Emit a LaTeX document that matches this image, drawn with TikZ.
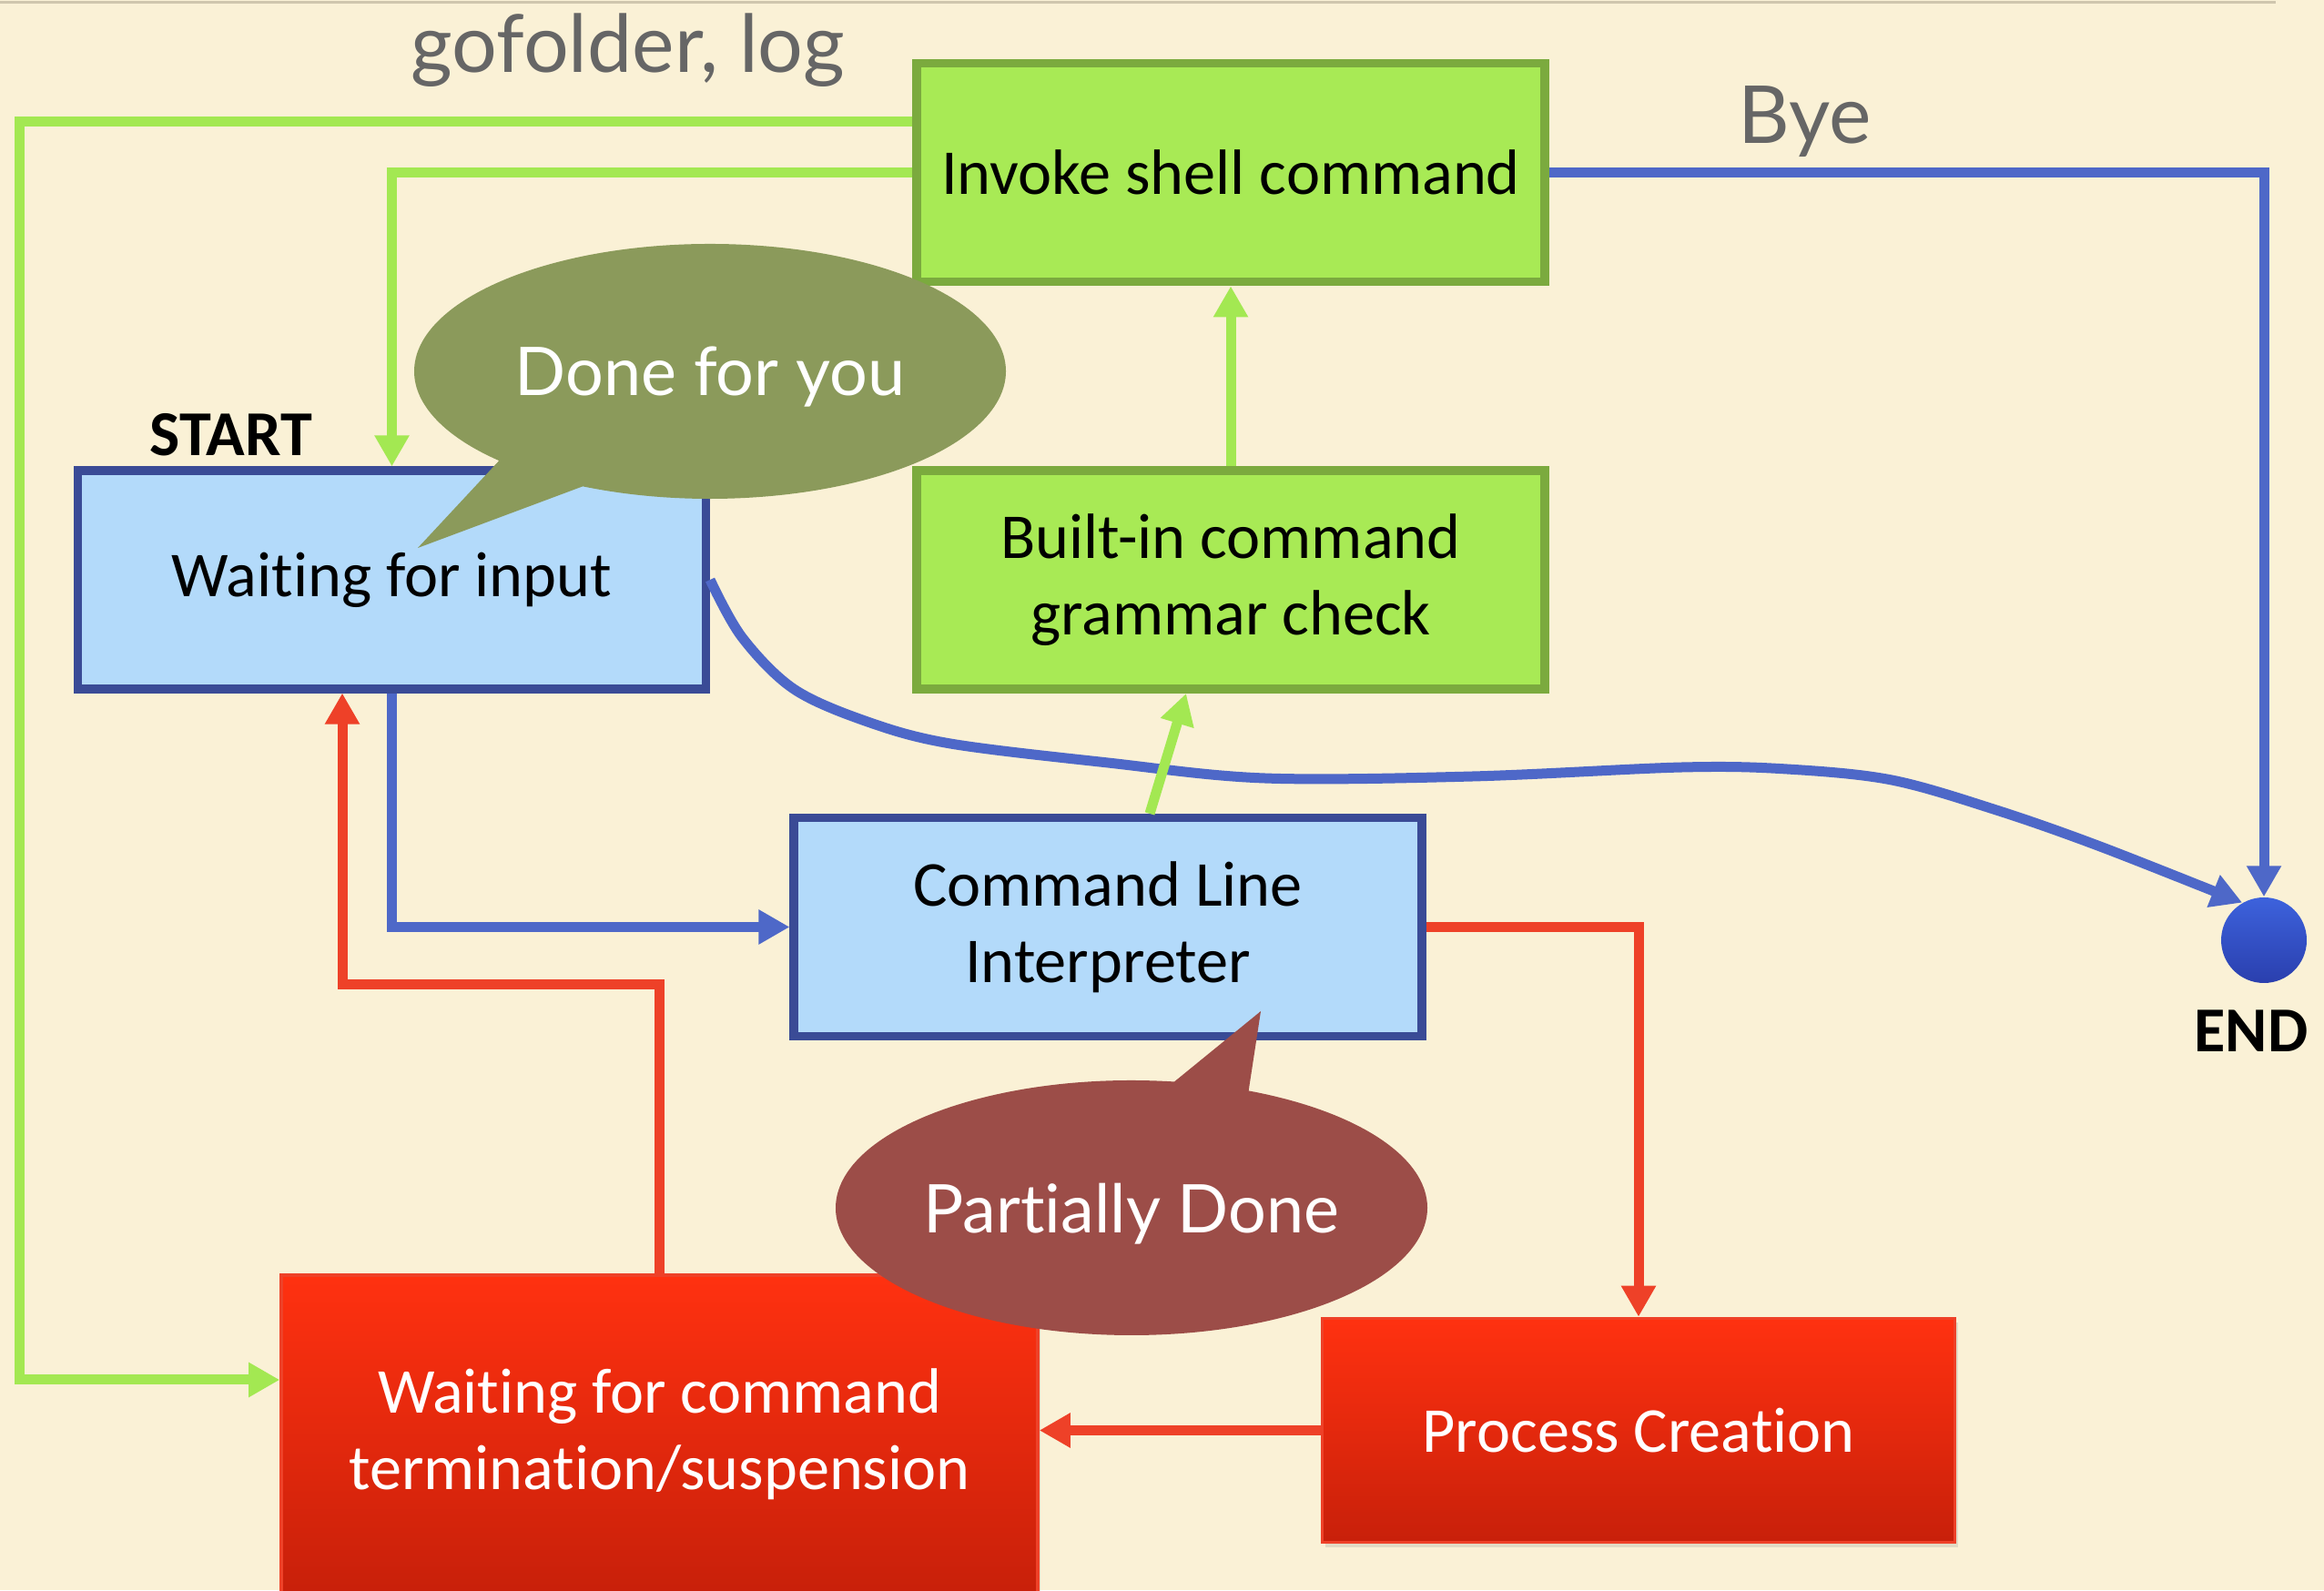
\documentclass[tikz,border=0pt]{standalone}
\usepackage{fontspec}
\setmainfont{Carlito}[Ligatures=NoCommon]
\newfontfamily\gillfont{Lato}[Ligatures=NoCommon]
\usepackage{tikz}
\usetikzlibrary{shapes.geometric, shapes.callouts, arrows.meta, positioning, calc, shadows}

\definecolor{bgcream}{HTML}{FAF1D6}
\definecolor{topline}{HTML}{CFC6AE}
\definecolor{greenfill}{HTML}{A8EA55}
\definecolor{greenedge}{HTML}{7BAA3E}
\definecolor{greenline}{HTML}{A3E852}
\definecolor{bluefill}{HTML}{B3DAFA}
\definecolor{blueedge}{HTML}{3A4B96}
\definecolor{blueline}{HTML}{4E68C8}
\definecolor{redline}{HTML}{EE4128}
\definecolor{redtop}{HTML}{FF3110}
\definecolor{redbottom}{HTML}{C8200A}
\definecolor{endtop}{HTML}{3D62DC}
\definecolor{endbottom}{HTML}{2A3FAE}
\definecolor{olivebub}{HTML}{8B9A5B}
\definecolor{brownbub}{HTML}{9C4D48}
\definecolor{labelgray}{HTML}{666666}

\begin{document}
\begin{tikzpicture}[
  font=\fontsize{20}{24}\selectfont,
  greenbox/.style={draw=greenedge, line width=2.8pt, fill=greenfill, minimum width=6.9cm, minimum height=2.4cm, align=center,
    drop shadow={opacity=0.2, shadow xshift=0.03cm, shadow yshift=-0.05cm}},
  bluebox/.style={draw=blueedge, line width=2.6pt, fill=bluefill, minimum width=6.9cm, minimum height=2.4cm, align=center,
    drop shadow={opacity=0.2, shadow xshift=0.03cm, shadow yshift=-0.05cm}},
  redbox/.style={draw=redline, line width=1pt, top color=redtop, bottom color=redbottom, text=white, minimum width=6.95cm, minimum height=2.46cm, align=center,
    drop shadow={opacity=0.2, shadow xshift=0.03cm, shadow yshift=-0.05cm}},
  bubble/.style={ellipse callout, font=\gillfont\fontsize{21}{24}\selectfont, text=white, inner sep=0pt, minimum width=6.5cm, minimum height=2.8cm, text depth=0pt},
  greenflow/.style={line width=0.11cm, greenline, -{Triangle[length=0.34cm, width=0.36cm]}},
  blueflow/.style={line width=0.11cm, blueline, -{Triangle[length=0.34cm, width=0.36cm]}},
  redflow/.style={line width=0.11cm, redline, -{Triangle[length=0.34cm, width=0.36cm]}},
  toplabel/.style={font=\gillfont\fontsize{25}{28}\selectfont, text=labelgray, anchor=base},
  mark label/.style={font=\bfseries\fontsize{20}{24}\selectfont},
]
% Slide background
\clip (0,0) rectangle (25.53,17.47);
\fill[bgcream] (0,0) rectangle (25.53,17.47);
\draw[line width=0.03cm, topline] (0,17.44) -- (25.0,17.44);

% States
\node[greenbox] (invoke) at (13.52,15.575) {Invoke shell command};
\node[greenbox] (builtin) at (13.52,11.10) {Built-in command\\ grammar check};
\node[bluebox] (waitin) at (4.305,11.10) {Waiting for input};
\node[bluebox] (cli) at (12.17,7.285) {Command Line\\ Interpreter};
\node[redbox, minimum width=8.31cm, minimum height=3.49cm] (waitcmd) at (7.245,1.715) {Waiting for command\\ termination/suspension};
\node[redbox] (proc) at (18.00,1.755) {Process Creation};
\node[circle, minimum size=0.94cm, inner sep=0pt, top color=endtop, bottom color=endbottom] (endpt) at (24.87,7.14) {};

% Labels
\node[mark label] (startlbl) at (2.54,12.69) {START};
\node[mark label] (endlbl) at (24.73,6.14) {END};
\node[toplabel] (gologlbl) at (6.90,16.67) {gofolder, log};
\node[toplabel] (byelbl) at (19.83,15.89) {Bye};

% Exit path
\draw[blueflow] (invoke.east) -| (endpt.north);
\draw[blueflow] plot[smooth, tension=0.55] coordinates {(waitin.east) (8.15,10.47) (8.72,9.90) (9.53,9.54) (10.44,9.30) (12.17,9.09) (13.89,8.92) (16.18,8.94) (18.48,9.04) (19.63,9.02) (20.78,8.90) (21.93,8.57) (23.07,8.17) (endpt.120)};

% Main loop
\draw[blueflow] (waitin.south) |- (cli.west);
\draw[greenflow] ([xshift=0.46cm]cli.north) -- ([xshift=-0.49cm]builtin.south);
\draw[greenflow] (builtin.north) -- (invoke.south);
\draw[greenflow] (invoke.west) -| (waitin.north);
\draw[greenflow] (invoke.west |- 0,16.13) -| (0.21,2.31) -- (waitcmd.west |- 0,2.31);
\draw[redflow] (cli.east) -| (proc.north);
\draw[redflow] (proc.west) -- (proc.west -| waitcmd.east);
\coordinate (rturn) at (3.76,6.65);
\draw[redflow] (waitcmd.north) |- (rturn) -- (rturn |- waitin.south);

% Speech bubbles
\node[bubble, fill=olivebub, callout pointer arc=20, callout absolute pointer={(4.59,11.45)}] (donebub) at (7.80,13.39) {Done for you};
\node[bubble, fill=brownbub, callout absolute pointer={(13.85,6.36)}] (partbub) at (12.43,4.20) {Partially Done};
\end{tikzpicture}
\end{document}
